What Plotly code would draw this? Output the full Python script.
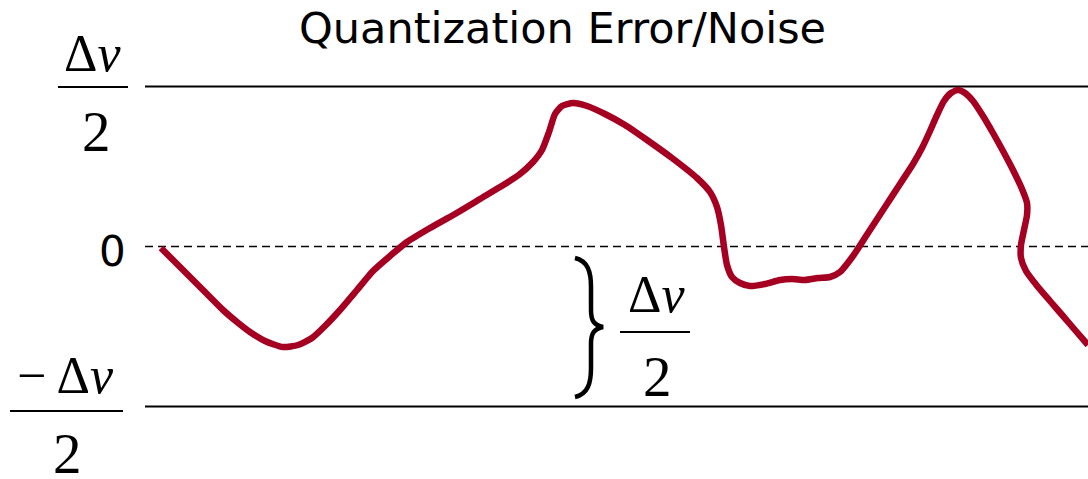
import plotly.graph_objects as go

# ---- data (x in time units, y in units of Δv/2) ----
W, H = 1088, 479
ZERO_PX, UNIT_PX = 246.5, 160.0

curve_x = [161, 175, 190, 207, 223, 237, 250, 265, 283, 298, 312, 325, 340, 357, 373, 390,
           407, 430, 455, 480, 505, 520, 533, 542, 549, 555, 562, 573, 587, 605, 625, 647,
           672, 697, 710, 717, 721, 724, 727, 732, 740, 750, 765, 780, 792, 805, 818, 830,
           840, 853, 868, 885, 900, 913, 922, 930, 937, 944, 951, 958, 965, 973, 983, 993,
           1003, 1013, 1022, 1027, 1027, 1024, 1021, 1021, 1026, 1038, 1050, 1063, 1075, 1088]
curve_px_y = [248, 262, 277, 294, 310, 322, 332, 341, 347, 345, 338, 326, 310, 290, 271, 256,
              242, 228, 214, 199, 184, 174, 162, 150, 132, 114, 106, 103, 106, 114, 125, 140,
              158, 178, 192, 207, 225, 247, 265, 277, 283, 286, 284, 280, 279, 280, 278, 277,
              272, 256, 233, 207, 184, 164, 148, 131, 115, 101, 93, 90, 93, 101, 116, 133,
              151, 170, 189, 203, 215, 230, 245, 258, 271, 287, 301, 316, 330, 345]
curve_y = [(ZERO_PX - p) / UNIT_PX for p in curve_px_y]

levels = [1, 0, -1]            # +Δv/2, 0, -Δv/2
level_styles = ["solid", "8px,5px", "solid"]
level_widths = [2, 1.6, 2]
line_x = [145, 1088]

title_text = "Quantization Error/Noise"
zero_label = "0"

CURVE_COLOR = "#A50021"
SERIF = "Liberation Serif, Times New Roman, serif"
SANS = "DejaVu Sans, Verdana, sans-serif"

fig = go.Figure()

for lv, ds, lw in zip(levels, level_styles, level_widths):
    fig.add_trace(go.Scatter(x=line_x, y=[lv, lv], mode="lines",
                             line=dict(color="black", width=lw, dash=ds),
                             hoverinfo="skip", showlegend=False))

fig.add_trace(go.Scatter(x=curve_x, y=curve_y, mode="lines",
                         line=dict(color=CURVE_COLOR, width=6.5, shape="spline", smoothing=0.6),
                         showlegend=False))


def px(x):
    return x / W


def py(y):
    return 1 - y / H


annotations = []


def add_text(text, cx, cy, size, family):
    annotations.append(dict(text=text, x=px(cx), y=py(cy), xref="paper", yref="paper",
                            xanchor="center", yanchor="middle", showarrow=False,
                            font=dict(size=size, family=family, color="black")))


shapes = []


def add_bar(x0, x1, y):
    shapes.append(dict(type="line", xref="paper", yref="paper",
                       x0=px(x0), x1=px(x1), y0=py(y), y1=py(y),
                       line=dict(color="black", width=2)))


NUM, DEN = 52, 57

# title and zero label
add_text(title_text, 562, 28, 43, SANS)
add_text(zero_label, 112, 251, 42, SANS)

# +Δv/2
add_text("Δ<i>v</i>", 92, 54, NUM, SERIF)
add_bar(58, 128, 87)
add_text("2", 96, 131, DEN, SERIF)

# -Δv/2
add_text("− Δ<i>v</i>", 65, 375, NUM, SERIF)
add_bar(10, 123, 411)
add_text("2", 67, 453, DEN, SERIF)

# middle brace annotation
add_text("Δ<i>v</i>", 656, 294, NUM, SERIF)
add_bar(620, 690, 332)
add_text("2", 657, 376, DEN, SERIF)

# curly brace path
pts = "M {} {} C {} {}, {} {}, {} {} L {} {} C {} {}, {} {}, {} {} C {} {}, {} {}, {} {} L {} {} C {} {}, {} {}, {} {}"
coords = [(575, 258), (588, 261), (591, 272), (591, 287), (591, 310), (591, 321), (594, 325), (603, 327),
          (594, 329), (591, 333), (591, 344), (591, 368), (591, 383), (588, 394), (575, 397)]
flat = []
for cx, cy in coords:
    flat += [round(px(cx), 5), round(py(cy), 5)]
shapes.append(dict(type="path", xref="paper", yref="paper", path=pts.format(*flat),
                   line=dict(color="black", width=4.5)))

fig.update_layout(
    width=W, height=H,
    margin=dict(l=0, r=0, t=0, b=0),
    paper_bgcolor="white", plot_bgcolor="white",
    xaxis=dict(range=[0, W], visible=False, fixedrange=True),
    yaxis=dict(range=[(ZERO_PX - H) / UNIT_PX, ZERO_PX / UNIT_PX], visible=False, fixedrange=True),
    annotations=annotations, shapes=shapes, showlegend=False,
)

fig.write_html("out.html", config={"displayModeBar": False},
               post_script="document.body.style.margin='0px';document.body.style.overflow='hidden';")
